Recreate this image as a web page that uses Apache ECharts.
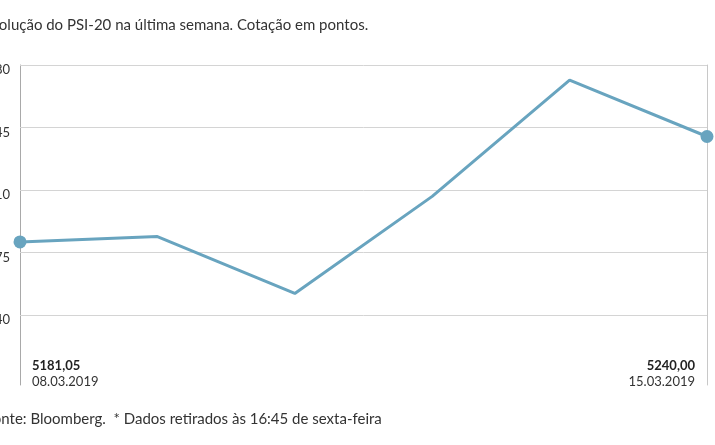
<!DOCTYPE html>
<html>
<head>
<meta charset="utf-8">
<script src="https://cdn.jsdelivr.net/npm/echarts@6/dist/echarts.min.js"></script>
<style>
html,body{margin:0;padding:0;background:#fff;}
#c{width:715px;height:445px;}
</style>
</head>
<body>
<div id="c"></div>
<script>
const categories = ['08.03.2019', '11.03.2019', '12.03.2019', '13.03.2019', '14.03.2019', '15.03.2019'];
const values = [5181.05, 5184.0, 5152.2, 5206.5, 5271.5, 5240.00];
const gridValues = [5140, 5175, 5210, 5245, 5280];
const titleText = 'Evolução do PSI-20 na última semana. Cotação em pontos.';
const footerText = 'Fonte: Bloomberg.  * Dados retirados às 16:45 de sexta-feira';

const FONT = 'Lato';
const fmt = v => v.toFixed(2).replace('.', ',');
const last = values.length - 1;

const chart = echarts.init(document.getElementById('c'), null, {renderer: 'canvas'});
chart.setOption({
  animation: false,
  backgroundColor: '#fff',
  textStyle: {fontFamily: FONT},
  grid: {left: 20, right: 8, top: 65, bottom: 60, containLabel: false},
  xAxis: {
    type: 'category',
    data: categories,
    boundaryGap: false,
    axisLine: {show: false},
    axisTick: {show: false},
    axisLabel: {show: false},
    splitLine: {show: false}
  },
  yAxis: [{
    type: 'value',
    min: 5101,
    max: 5280,
    position: 'left',
    axisLine: {show: true, lineStyle: {color: '#a9a9a9', width: 1}},
    axisTick: {show: false},
    axisLabel: {show: false},
    splitLine: {show: false}
  }, {
    type: 'value',
    min: 5101,
    max: 5280,
    position: 'right',
    axisLine: {show: true, lineStyle: {color: '#c8c8c8', width: 1}},
    axisTick: {show: false},
    axisLabel: {show: false},
    splitLine: {show: false}
  }],
  series: [{
    type: 'line',
    data: values,
    yAxisIndex: 0,
    symbol: 'circle',
    showAllSymbol: true,
    symbolSize: (v, p) => (p.dataIndex === 0 || p.dataIndex === last) ? 13 : 0,
    lineStyle: {color: '#68a4bf', width: 3},
    itemStyle: {color: '#68a4bf'},
    z: 5,
    markLine: {
      silent: true,
      symbol: ['none', 'none'],
      z: 1,
      lineStyle: {color: '#d4d4d4', width: 1, type: 'solid'},
      label: {
        show: true,
        position: 'start',
        distance: 10,
        formatter: '{c}',
        color: '#333',
        fontSize: 13,
        fontFamily: FONT,
        offset: [0, 5]
      },
      data: gridValues.map(v => ({yAxis: v}))
    }
  }],
  graphic: [
    {type: 'text', left: -17, top: 18, style: {text: titleText, fill: '#333', font: '15px ' + FONT}},
    {type: 'text', left: 32, top: 359, style: {text: fmt(values[0]), fill: '#222', font: 'bold 13px ' + FONT}},
    {type: 'text', left: 32, top: 375, style: {text: categories[0], fill: '#333', font: '13px ' + FONT}},
    {type: 'text', right: 20, top: 359, style: {text: fmt(values[last]), fill: '#222', font: 'bold 13px ' + FONT, align: 'right'}},
    {type: 'text', right: 20, top: 375, style: {text: categories[last], fill: '#333', font: '13px ' + FONT, align: 'right'}},
    {type: 'text', left: -15, top: 412, style: {text: footerText, fill: '#333', font: '15px ' + FONT}}
  ]
});
</script>
</body>
</html>
